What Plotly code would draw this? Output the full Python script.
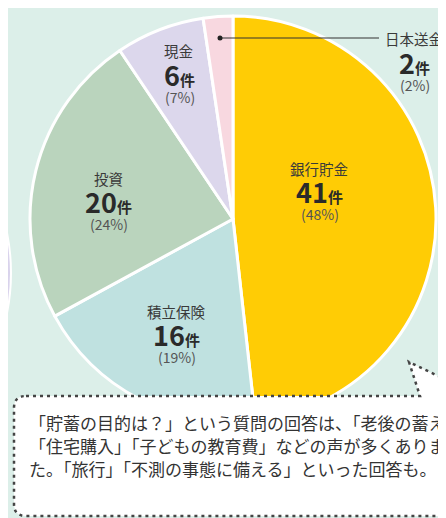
import plotly.graph_objects as go

W, H = 446, 518

# データ
labels = ["銀行貯金", "積立保険", "投資", "現金", "日本送金"]
counts = [41, 16, 20, 6, 2]
colors = ["#FFCC05", "#BFE1E0", "#BAD4BD", "#DCD7EC", "#F8D8E0"]
note_lines = [
    "「貯蓄の目的は？」という質問の回答は、「老後の蓄え」、",
    "「住宅購入」「子どもの教育費」などの声が多くありまし",
    "た。「旅行」「不測の事態に備える」といった回答も。",
]

total = sum(counts)
percents = [round(c / total * 100) for c in counts]

# ラベル位置 (ピクセル, 中心x, 名前のy)
label_pos = {
    "銀行貯金": (311, 160),
    "積立保険": (168, 303),
    "投資": (100, 170),
    "現金": (171, 43),
    "日本送金": (406, 31),
}


def px(x):
    return x / W


def py(y):
    return 1 - y / H


BG = "#DCEFE9"
TXT = "#333333"
FONT = "Noto Sans CJK JP"

fig = go.Figure()

# 円グラフ (中心 225,211 半径 203)
cx, cy, r = 225, 211, 203
fig.add_trace(go.Pie(
    labels=labels, values=counts, sort=False, direction="clockwise", rotation=0,
    marker=dict(colors=colors, line=dict(color="white", width=3)),
    textinfo="none", hoverinfo="label+value+percent", showlegend=False,
    domain=dict(x=[px(cx - r), px(cx + r)], y=[py(cy + r), py(cy - r)]),
))

annotations = []
for name, n, p in zip(labels, counts, percents):
    x, y = label_pos[name]
    annotations.append(dict(x=px(x), y=py(y), text=name,
                            font=dict(size=14.5, color="#3a3a3a", family=FONT)))
    annotations.append(dict(x=px(x), y=py(y + 23.5),
                            text=f"<b>{n}</b><span style='font-size:15px'><b>件</b></span>",
                            font=dict(size=27, color="#2a2a2a", family=FONT)))
    annotations.append(dict(x=px(x + 1), y=py(y + 46), text=f"({p}%)",
                            font=dict(size=14, color="#555555", family=FONT)))

for i, line in enumerate(note_lines):
    annotations.append(dict(x=px(19), y=py(414 + i * 23), text=line, xanchor="left",
                            font=dict(size=17, color=TXT, family=FONT)))

for a in annotations:
    a.update(xref="paper", yref="paper", showarrow=False)
    a.setdefault("xanchor", "center")
    a["yanchor"] = "middle"

# 吹き出し
path = f"M {px(18)},{py(388)} L {px(412)},{py(388)} L {px(401)},{py(354)} " \
       f"L {px(480)},{py(392)} L {px(480)},{py(508)} L {px(18)},{py(508)} " \
       f"Q {px(6)},{py(508)} {px(6)},{py(496)} L {px(6)},{py(400)} " \
       f"Q {px(6)},{py(388)} {px(18)},{py(388)} Z"

shapes = [
    # 左端の別の円
    dict(type="circle", xref="paper", yref="paper", layer="below",
         x0=px(-403), x1=px(3), y0=py(468), y1=py(62),
         fillcolor="#D9D3EC", line=dict(color="white", width=2)),
    dict(type="path", xref="paper", yref="paper", layer="above", path=path,
         fillcolor="white", line=dict(color="#444444", width=2.5, dash="3px,4px")),
    # 引き出し線
    dict(type="line", xref="paper", yref="paper", layer="above",
         x0=px(212), x1=px(371), y0=py(30), y1=py(30),
         line=dict(color="#333333", width=1.2)),
    dict(type="circle", xref="paper", yref="paper", layer="above",
         x0=px(209.5), x1=px(214.5), y0=py(32.5), y1=py(27.5),
         fillcolor="#222222", line=dict(width=0)),
]

fig.update_layout(
    width=W, height=H, margin=dict(l=0, r=0, t=0, b=0),
    paper_bgcolor=BG, plot_bgcolor=BG,
    annotations=annotations, shapes=shapes,
    font=dict(family=FONT),
)

fig.write_html("out.html")
